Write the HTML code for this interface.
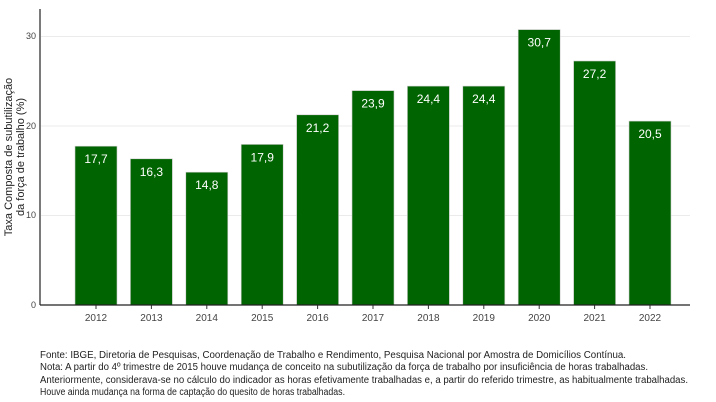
<!DOCTYPE html>
<html><head><meta charset="utf-8"><style>body{margin:0;background:#fff}svg{display:block}</style></head><body>
<svg width="716" height="402" xmlns="http://www.w3.org/2000/svg" font-family="Liberation Sans, sans-serif">
<g stroke="#ebebeb" stroke-width="1">
<line x1="41" x2="690" y1="36.5" y2="36.5"/><line x1="41" x2="690" y1="126" y2="126"/><line x1="41" x2="690" y1="215.5" y2="215.5"/>
</g>
<g fill="#006400" stroke="#cfcfcf" stroke-width="0.6">
<rect x="75" y="146.2" width="42" height="158.8"/>
<rect x="130.4" y="158.8" width="42" height="146.2"/>
<rect x="185.8" y="172.2" width="42" height="132.8"/>
<rect x="241.2" y="144.4" width="42" height="160.6"/>
<rect x="296.6" y="114.8" width="42" height="190.2"/>
<rect x="352" y="90.6" width="42" height="214.4"/>
<rect x="407.4" y="86.1" width="42" height="218.9"/>
<rect x="462.8" y="86.1" width="42" height="218.9"/>
<rect x="518.2" y="29.6" width="42" height="275.4"/>
<rect x="573.6" y="61" width="42" height="244"/>
<rect x="629" y="121.1" width="42" height="183.9"/>
</g>
<g fill="#fff" font-size="12" text-anchor="middle">
<text x="96" y="163.2">17,7</text>
<text x="151.4" y="175.8">16,3</text>
<text x="206.8" y="189.2">14,8</text>
<text x="262.2" y="161.4">17,9</text>
<text x="317.6" y="131.8">21,2</text>
<text x="373" y="107.6">23,9</text>
<text x="428.4" y="103.1">24,4</text>
<text x="483.8" y="103.1">24,4</text>
<text x="539.2" y="46.6">30,7</text>
<text x="594.6" y="78">27,2</text>
<text x="650" y="138.1">20,5</text>
</g>
<g stroke="#333">
<line x1="96" x2="96" y1="305" y2="309"/><line x1="151.4" x2="151.4" y1="305" y2="309"/><line x1="206.8" x2="206.8" y1="305" y2="309"/><line x1="262.2" x2="262.2" y1="305" y2="309"/><line x1="317.6" x2="317.6" y1="305" y2="309"/><line x1="373" x2="373" y1="305" y2="309"/><line x1="428.4" x2="428.4" y1="305" y2="309"/><line x1="483.8" x2="483.8" y1="305" y2="309"/><line x1="539.2" x2="539.2" y1="305" y2="309"/><line x1="594.6" x2="594.6" y1="305" y2="309"/><line x1="650" x2="650" y1="305" y2="309"/>
</g>
<g fill="#444" font-size="10" text-anchor="middle">
<text x="96" y="321">2012</text><text x="151.4" y="321">2013</text><text x="206.8" y="321">2014</text><text x="262.2" y="321">2015</text><text x="317.6" y="321">2016</text><text x="373" y="321">2017</text><text x="428.4" y="321">2018</text><text x="483.8" y="321">2019</text><text x="539.2" y="321">2020</text><text x="594.6" y="321">2021</text><text x="650" y="321">2022</text>
</g>
<line x1="40" x2="40" y1="9" y2="305" stroke="#222" stroke-width="1.2"/>
<line x1="40" x2="690" y1="305" y2="305" stroke="#222" stroke-width="1.2"/>
<g fill="#444" font-size="9" text-anchor="end">
<text x="36" y="39">30</text><text x="36" y="129">20</text><text x="36" y="218">10</text><text x="36" y="308">0</text>
</g>
<g font-size="11" fill="#222" text-anchor="middle">
<text transform="translate(12,157) rotate(-90)">Taxa Composta de subutilização</text>
<text transform="translate(24,157) rotate(-90)">da força de trabalho (%)</text>
</g>
<g font-size="10" fill="#222">
<text x="40" y="358" textLength="586" lengthAdjust="spacingAndGlyphs">Fonte: IBGE, Diretoria de Pesquisas, Coordenação de Trabalho e Rendimento, Pesquisa Nacional por Amostra de Domicílios Contínua.</text>
<text x="40" y="370" textLength="608" lengthAdjust="spacingAndGlyphs">Nota: A partir do 4º trimestre de 2015 houve mudança de conceito na subutilização da força de trabalho por insuficiência de horas trabalhadas.</text>
<text x="40" y="383" textLength="648" lengthAdjust="spacingAndGlyphs">Anteriormente, considerava-se no cálculo do indicador as horas efetivamente trabalhadas e, a partir do referido trimestre, as habitualmente trabalhadas.</text>
<text x="40" y="395" textLength="305" lengthAdjust="spacingAndGlyphs">Houve ainda mudança na forma de captação do quesito de horas trabalhadas.</text>
</g>
</svg>
</body></html>
